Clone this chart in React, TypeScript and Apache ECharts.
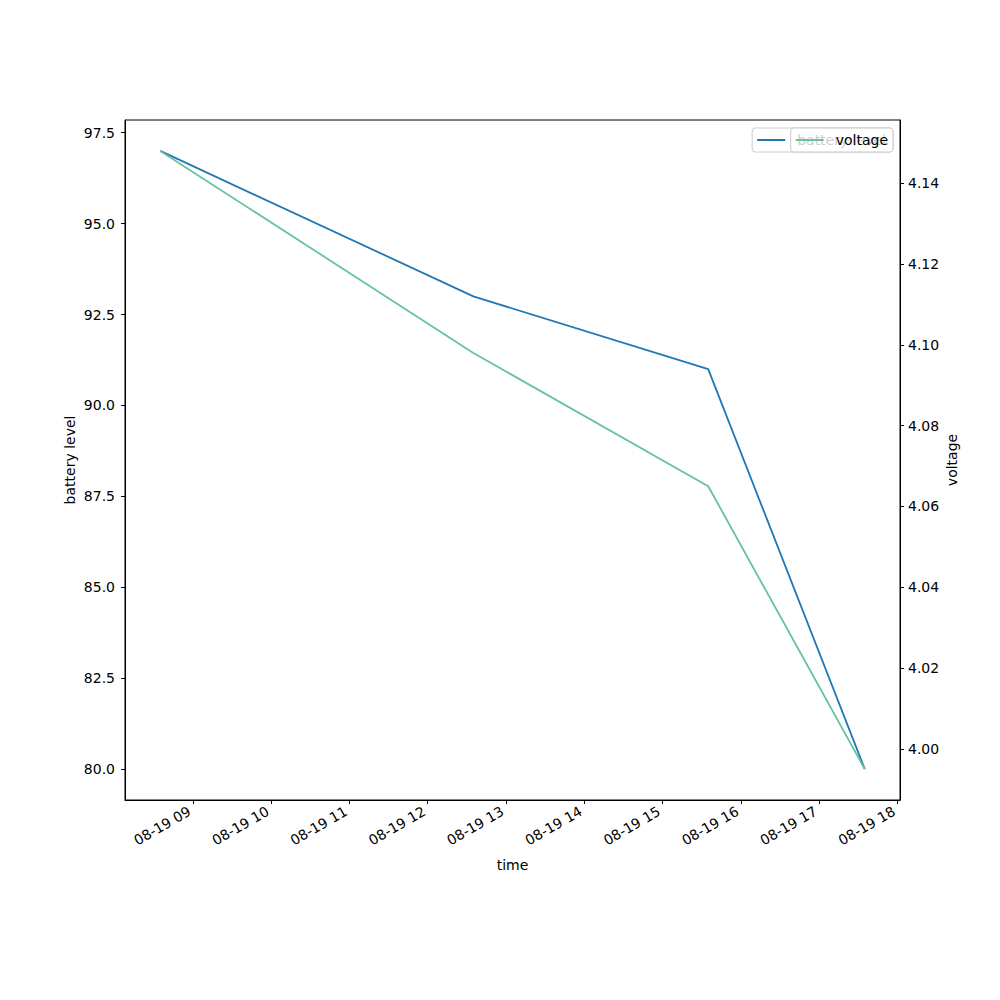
import React, { useEffect, useRef } from "react";
import * as echarts from "echarts";

const times = ["2023-08-19T08:35:00Z", "2023-08-19T12:35:00Z", "2023-08-19T15:35:00Z", "2023-08-19T17:35:00Z"];
const batteryLevel = [97, 93, 91, 80];
const voltage = [4.148, 4.098, 4.065, 3.995];
const xTickHours = [9, 10, 11, 12, 13, 14, 15, 16, 17, 18];
const batteryTicks = [80, 82.5, 85, 87.5, 90, 92.5, 95, 97.5];
const voltageTicks = [4.0, 4.02, 4.04, 4.06, 4.08, 4.1, 4.12, 4.14];

const FONT = "DejaVu Sans";
const HOUR = 3600 * 1000;

function pad(n: number) {
  return n < 10 ? "0" + n : String(n);
}

export default function App() {
  const ref = useRef<HTMLDivElement>(null);
  useEffect(() => {
    if (!ref.current) return;
    const chart = echarts.init(ref.current, undefined, { renderer: "svg" });
    const xs = times.map((t) => Date.parse(t));
    const span = xs[xs.length - 1] - xs[0];
    const xMin = xs[0] - span * 0.05;
    const xMax = xs[xs.length - 1] + span * 0.05;
    const day = Date.UTC(2023, 7, 19);
    const xTicks = xTickHours.map((h) => day + h * HOUR);

    const bMin = Math.min(...batteryLevel), bMax = Math.max(...batteryLevel);
    const bPad = (bMax - bMin) * 0.05;
    const vMin = Math.min(...voltage), vMax = Math.max(...voltage);
    const vPad = (vMax - vMin) * 0.05;

    const tickStyle = { show: true, length: 4, inside: false, lineStyle: { color: "#000", width: 1 } };
    const labelStyle = { color: "#000", fontFamily: FONT, fontSize: 14 };

    chart.setOption({
      animation: false,
      textStyle: { fontFamily: FONT },
      grid: {
        left: 125,
        right: 100,
        top: 120,
        bottom: 200,
        show: true,
        borderColor: "#000",
        borderWidth: 1,
        backgroundColor: "transparent",
      },
      legend: [
        {
          data: ["battery level"],
          right: 107,
          top: 128,
          z: 5,
          icon: "rect",
          itemWidth: 28,
          itemHeight: 2,
          padding: [5, 7, 5, 5],
          backgroundColor: "rgba(255,255,255,0.8)",
          borderColor: "#cccccc",
          borderWidth: 1,
          borderRadius: 3,
          textStyle: { color: "#000", fontFamily: FONT, fontSize: 14, padding: [0, 0, 0, 7] },
        },
        {
          data: ["voltage"],
          right: 107,
          top: 128,
          z: 6,
          icon: "rect",
          itemWidth: 28,
          itemHeight: 2,
          padding: [5, 5, 5, 5],
          backgroundColor: "rgba(255,255,255,0.8)",
          borderColor: "#cccccc",
          borderWidth: 1,
          borderRadius: 3,
          textStyle: { color: "#000", fontFamily: FONT, fontSize: 14, padding: [0, 0, 0, 7] },
        },
      ],
      xAxis: {
        type: "value",
        min: xMin,
        max: xMax,
        name: "time",
        nameLocation: "middle",
        nameGap: 58,
        nameMoveOverlap: false,
        nameTextStyle: labelStyle,
        axisLine: { show: true, lineStyle: { color: "#000", width: 1 } },
        axisTick: { ...tickStyle, customValues: xTicks },
        axisLabel: {
          ...labelStyle,
          customValues: xTicks,
          rotate: 30,
          margin: 8,
          padding: [0, 4, 0, 0],
          formatter: (v: number) => {
            const d = new Date(v);
            return pad(d.getUTCMonth() + 1) + "-" + pad(d.getUTCDate()) + " " + pad(d.getUTCHours());
          },
        },
        splitLine: { show: false },
      },
      yAxis: [
        {
          type: "value",
          position: "left",
          min: bMin - bPad,
          max: bMax + bPad,
          name: "battery level",
          nameLocation: "middle",
          nameGap: 48,
          nameMoveOverlap: false,
          nameTextStyle: labelStyle,
          axisLine: { show: true, lineStyle: { color: "#000", width: 1 } },
          axisTick: { ...tickStyle, customValues: batteryTicks },
          axisLabel: {
            ...labelStyle,
            customValues: batteryTicks,
            margin: 10,
            formatter: (v: number) => v.toFixed(1),
          },
          splitLine: { show: false },
        },
        {
          type: "value",
          position: "right",
          min: vMin - vPad,
          max: vMax + vPad,
          name: "voltage",
          nameLocation: "middle",
          nameGap: 45,
          nameMoveOverlap: false,
          nameRotate: 90,
          nameTextStyle: labelStyle,
          axisLine: { show: true, lineStyle: { color: "#000", width: 1 } },
          axisTick: { ...tickStyle, customValues: voltageTicks },
          axisLabel: {
            ...labelStyle,
            customValues: voltageTicks,
            margin: 8,
            formatter: (v: number) => v.toFixed(2),
          },
          splitLine: { show: false },
        },
      ],
      series: [
        {
          name: "battery level",
          type: "line",
          yAxisIndex: 0,
          data: xs.map((x, i) => [x, batteryLevel[i]]),
          symbol: "none",
          lineStyle: { color: "#1f77b4", width: 1.8 },
          itemStyle: { color: "#1f77b4" },
        },
        {
          name: "voltage",
          type: "line",
          yAxisIndex: 1,
          data: xs.map((x, i) => [x, voltage[i]]),
          symbol: "none",
          lineStyle: { color: "#66c2a5", width: 1.8 },
          itemStyle: { color: "#66c2a5" },
        },
      ],
    });
    return () => chart.dispose();
  }, []);
  return <div ref={ref} style={{ position: "absolute", left: 0, top: 0, width: 1000, height: 1000 }} />;
}
